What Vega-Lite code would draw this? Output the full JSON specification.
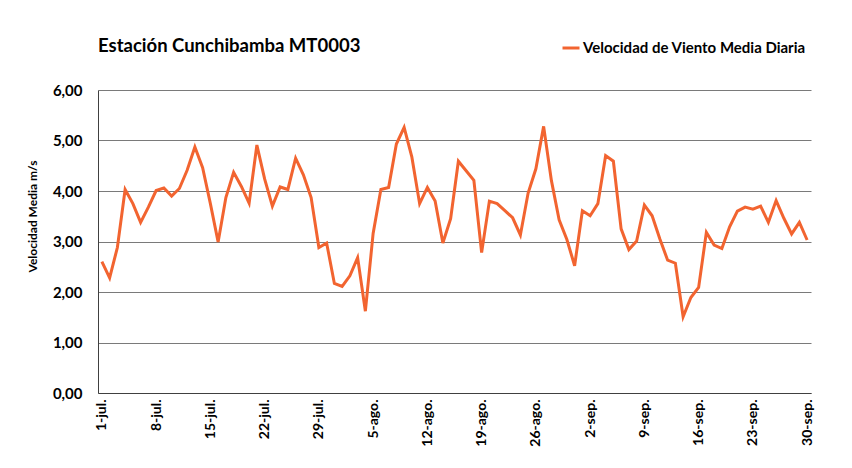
{
  "$schema": "https://vega.github.io/schema/vega-lite/v6.json",
  "width": 713,
  "height": 303,
  "autosize": "none",
  "padding": {"left": 98, "top": 90, "right": 41, "bottom": 75},
  "background": "white",
  "title": {
    "text": "Estación Cunchibamba MT0003",
    "anchor": "start",
    "frame": "group",
    "font": "Lato",
    "fontSize": 18.5,
    "fontWeight": "bold",
    "color": "#000000",
    "offset": 0,
    "dy": 17
  },
  "config": {
    "view": {"stroke": null},
    "font": "Lato"
  },
  "data": {
    "values": [
      {"d": "1-jul.", "v": 2.60}, {"d": "2-jul.", "v": 2.28}, {"d": "3-jul.", "v": 2.88}, {"d": "4-jul.", "v": 4.03},
      {"d": "5-jul.", "v": 3.75}, {"d": "6-jul.", "v": 3.38}, {"d": "7-jul.", "v": 3.68}, {"d": "8-jul.", "v": 4.01},
      {"d": "9-jul.", "v": 4.06}, {"d": "10-jul.", "v": 3.90}, {"d": "11-jul.", "v": 4.05}, {"d": "12-jul.", "v": 4.41},
      {"d": "13-jul.", "v": 4.87}, {"d": "14-jul.", "v": 4.46}, {"d": "15-jul.", "v": 3.75}, {"d": "16-jul.", "v": 2.99},
      {"d": "17-jul.", "v": 3.87}, {"d": "18-jul.", "v": 4.37}, {"d": "19-jul.", "v": 4.09}, {"d": "20-jul.", "v": 3.76},
      {"d": "21-jul.", "v": 4.91}, {"d": "22-jul.", "v": 4.24}, {"d": "23-jul.", "v": 3.70}, {"d": "24-jul.", "v": 4.08},
      {"d": "25-jul.", "v": 4.03}, {"d": "26-jul.", "v": 4.65}, {"d": "27-jul.", "v": 4.32}, {"d": "28-jul.", "v": 3.87},
      {"d": "29-jul.", "v": 2.88}, {"d": "30-jul.", "v": 2.97}, {"d": "31-jul.", "v": 2.17},
      {"d": "1-ago.", "v": 2.11}, {"d": "2-ago.", "v": 2.32}, {"d": "3-ago.", "v": 2.68}, {"d": "4-ago.", "v": 1.62},
      {"d": "5-ago.", "v": 3.16}, {"d": "6-ago.", "v": 4.03}, {"d": "7-ago.", "v": 4.07}, {"d": "8-ago.", "v": 4.93},
      {"d": "9-ago.", "v": 5.26}, {"d": "10-ago.", "v": 4.67}, {"d": "11-ago.", "v": 3.75}, {"d": "12-ago.", "v": 4.07},
      {"d": "13-ago.", "v": 3.80}, {"d": "14-ago.", "v": 2.97}, {"d": "15-ago.", "v": 3.45}, {"d": "16-ago.", "v": 4.59},
      {"d": "17-ago.", "v": 4.40}, {"d": "18-ago.", "v": 4.21}, {"d": "19-ago.", "v": 2.78}, {"d": "20-ago.", "v": 3.80},
      {"d": "21-ago.", "v": 3.75}, {"d": "22-ago.", "v": 3.61}, {"d": "23-ago.", "v": 3.47}, {"d": "24-ago.", "v": 3.13},
      {"d": "25-ago.", "v": 3.96}, {"d": "26-ago.", "v": 4.44}, {"d": "27-ago.", "v": 5.28}, {"d": "28-ago.", "v": 4.21},
      {"d": "29-ago.", "v": 3.43}, {"d": "30-ago.", "v": 3.04}, {"d": "31-ago.", "v": 2.52},
      {"d": "1-sep.", "v": 3.61}, {"d": "2-sep.", "v": 3.51}, {"d": "3-sep.", "v": 3.75}, {"d": "4-sep.", "v": 4.70},
      {"d": "5-sep.", "v": 4.59}, {"d": "6-sep.", "v": 3.25}, {"d": "7-sep.", "v": 2.84}, {"d": "8-sep.", "v": 3.01},
      {"d": "9-sep.", "v": 3.72}, {"d": "10-sep.", "v": 3.51}, {"d": "11-sep.", "v": 3.05}, {"d": "12-sep.", "v": 2.63},
      {"d": "13-sep.", "v": 2.57}, {"d": "14-sep.", "v": 1.51}, {"d": "15-sep.", "v": 1.89}, {"d": "16-sep.", "v": 2.09},
      {"d": "17-sep.", "v": 3.18}, {"d": "18-sep.", "v": 2.93}, {"d": "19-sep.", "v": 2.86}, {"d": "20-sep.", "v": 3.29},
      {"d": "21-sep.", "v": 3.60}, {"d": "22-sep.", "v": 3.68}, {"d": "23-sep.", "v": 3.64}, {"d": "24-sep.", "v": 3.70},
      {"d": "25-sep.", "v": 3.38}, {"d": "26-sep.", "v": 3.81}, {"d": "27-sep.", "v": 3.46}, {"d": "28-sep.", "v": 3.15},
      {"d": "29-sep.", "v": 3.38}, {"d": "30-sep.", "v": 3.03}
    ]
  },
  "mark": {"type": "line", "strokeWidth": 3, "strokeJoin": "miter"},
  "encoding": {
    "x": {
      "field": "d",
      "type": "ordinal",
      "sort": null,
      "scale": {"type": "point", "padding": 0.5},
      "axis": {
        "title": null,
        "values": ["1-jul.", "8-jul.", "15-jul.", "22-jul.", "29-jul.", "5-ago.", "12-ago.", "19-ago.", "26-ago.", "2-sep.", "9-sep.", "16-sep.", "23-sep.", "30-sep."],
        "labelAngle": -90,
        "labelFont": "Lato",
        "labelFontSize": 14,
        "labelFontWeight": "bold",
        "labelColor": "#000000",
        "labelPadding": 6,
        "ticks": false,
        "domainColor": "#404040",
        "domainWidth": 1,
        "grid": false
      }
    },
    "y": {
      "field": "v",
      "type": "quantitative",
      "scale": {"domain": [0, 6], "nice": false},
      "axis": {
        "title": "Velocidad Media m/s",
        "titleFont": "Lato",
        "titleFontSize": 12,
        "titleFontWeight": "bold",
        "titleColor": "#000000",
        "titleX": -66,
        "titleY": 126,
        "titleAngle": -90,
        "titleAlign": "center",
        "titleBaseline": "middle",
        "values": [0, 1, 2, 3, 4, 5, 6],
        "labelExpr": "replace(format(datum.value, '.2f'), '.', ',')",
        "labelFont": "Lato",
        "labelFontSize": 15,
        "labelFontWeight": "bold",
        "labelColor": "#000000",
        "labelPadding": 16,
        "ticks": false,
        "domainColor": "#404040",
        "grid": true,
        "gridColor": "#7a7a7a",
        "gridWidth": 1
      }
    },
    "color": {
      "datum": "Velocidad de Viento Media Diaria",
      "scale": {"range": ["#F26430"]},
      "legend": {
        "title": null,
        "orient": "none",
        "legendX": 463,
        "legendY": -52,
        "symbolType": "stroke",
        "symbolSize": 289,
        "symbolStrokeWidth": 3,
        "labelFont": "Lato",
        "labelFontSize": 15,
        "labelFontWeight": "bold",
        "labelColor": "#000000",
        "labelOffset": 2,
        "labelLimit": 320
      }
    }
  }
}
